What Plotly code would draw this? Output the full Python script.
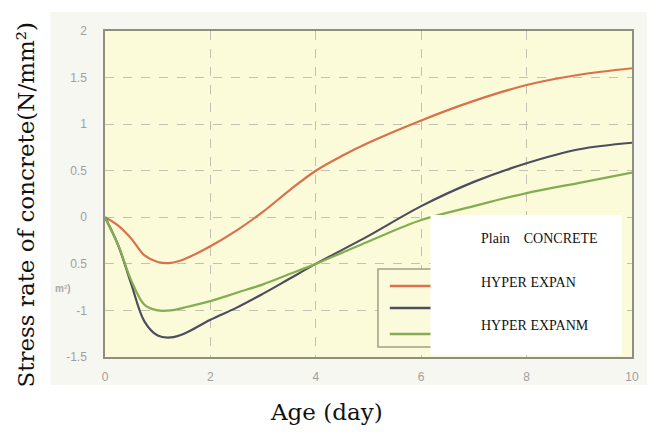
import plotly.graph_objects as go

# Data
age_days = [0, 0.25, 0.5, 0.75, 1, 1.25, 1.5, 2, 2.5, 3, 3.5, 4, 4.5, 5, 6, 7, 8, 9, 10]
plain_concrete = [0, -0.09, -0.23, -0.41, -0.48, -0.49, -0.45, -0.31, -0.14, 0.06, 0.29, 0.5, 0.66, 0.8, 1.04, 1.25, 1.42, 1.53, 1.6]
hyper_expan = [0, -0.3, -0.72, -1.12, -1.27, -1.29, -1.25, -1.1, -0.97, -0.82, -0.66, -0.5, -0.35, -0.2, 0.12, 0.38, 0.58, 0.73, 0.8]
hyper_expanm = [0, -0.3, -0.68, -0.94, -1.0, -1.0, -0.97, -0.9, -0.81, -0.72, -0.61, -0.5, -0.38, -0.26, -0.03, 0.12, 0.26, 0.37, 0.48]

series_names = ["Plain\u3000CONCRETE", "HYPER EXPAN", "HYPER EXPANM"]
series_colors = ["#d9714a", "#4d4d5e", "#84ad52"]

y_tickvals = [-1.5, -1, -0.5, 0, 0.5, 1, 1.5, 2]
y_ticktext = ["-1.5", "-1", "0.5", "0", "0.5", "1", "1.5", "2"]
x_tickvals = [0, 2, 4, 6, 8, 10]

fig = go.Figure()
for name, vals, col in zip(series_names, [plain_concrete, hyper_expan, hyper_expanm], series_colors):
    fig.add_trace(go.Scatter(x=age_days, y=vals, mode="lines", name=name,
                             line=dict(color=col, width=2.2, shape="spline", smoothing=1.0),
                             showlegend=False))

L, R, T, B = 105, 15, 31, 78
W, H = 651, 435
PW, PH = W - L - R, H - T - B

def px(x):
    return (x - L) / PW

def py(y):
    return (H - B - y) / PH

shapes = []
# faint scanned background around the axes
shapes.append(dict(type="rect", xref="paper", yref="paper", x0=px(50), x1=px(651), y0=py(385), y1=py(12),
                   fillcolor="#f7f7f2", line=dict(width=0), layer="below"))
# plot area fill
shapes.append(dict(type="rect", xref="paper", yref="paper", x0=0, x1=1, y0=0, y1=1,
                   fillcolor="#fbfbda", line=dict(width=0), layer="below"))
# original legend frame
shapes.append(dict(type="rect", xref="paper", yref="paper", x0=px(380), x1=px(445), y0=py(347), y1=py(269),
                   fillcolor="#fbfbdc", line=dict(color="#a09e88", width=1.5), layer="above"))
for yy, col in zip([286, 308, 334], series_colors):
    shapes.append(dict(type="line", xref="paper", yref="paper", x0=px(392), x1=px(440), y0=py(yy), y1=py(yy),
                       line=dict(color=col, width=2.5), layer="above"))
# white overlay box
shapes.append(dict(type="rect", xref="paper", yref="paper", x0=px(433), x1=px(626), y0=py(355), y1=py(215),
                   fillcolor="white", line=dict(width=0), layer="above"))

annotations = []
for txt, yy in zip(series_names, [238, 282, 325]):
    annotations.append(dict(text=txt, xref="paper", yref="paper", x=px(482), y=py(yy), xanchor="left",
                            yanchor="middle", showarrow=False,
                            font=dict(family="Liberation Serif", size=14, color="#111")))
annotations.append(dict(text="Stress rate of concrete(N/mm\u00b2)", xref="paper", yref="paper", x=px(25), y=py(205),
                        textangle=-90, showarrow=False, xanchor="center", yanchor="middle",
                        font=dict(family="DejaVu Serif", size=23, color="#111")))
annotations.append(dict(text="Age (day)", xref="paper", yref="paper", x=px(328), y=py(412),
                        showarrow=False, xanchor="center", yanchor="middle",
                        font=dict(family="DejaVu Serif", size=23, color="#111")))
annotations.append(dict(text="<b>m\u00b2)</b>", xref="paper", yref="paper", x=px(63), y=py(288),
                        showarrow=False, xanchor="center", yanchor="middle",
                        font=dict(family="Liberation Sans", size=10, color="#a8a8a8")))

fig.update_layout(
    width=W, height=H,
    margin=dict(l=L, r=R, t=T, b=B),
    paper_bgcolor="white",
    plot_bgcolor="#fbfbda",
    shapes=shapes,
    annotations=annotations,
    xaxis=dict(range=[0, 10], tickvals=x_tickvals, showgrid=True, griddash="dash", gridcolor="#c2c2b0",
               gridwidth=1, showline=True, mirror=True, linecolor="#8f8f80", linewidth=1.5,
               zeroline=False, ticks="", ticklabelstandoff=8,
               tickfont=dict(family="Liberation Sans", size=12, color="#a0a0a0")),
    yaxis=dict(range=[-1.5, 2], tickvals=y_tickvals, ticktext=y_ticktext, showgrid=True, griddash="dash",
               gridcolor="#c2c2b0", gridwidth=1, showline=True, mirror=True, linecolor="#8f8f80",
               linewidth=1.5, zeroline=False, ticks="", ticklabelstandoff=14,
               tickfont=dict(family="Liberation Sans", size=12, color="#a0a0a0")),
)

fig.write_html("out.html")
